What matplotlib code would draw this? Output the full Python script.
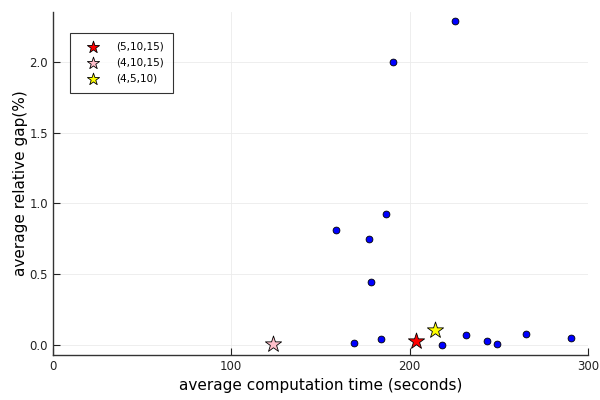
import matplotlib
matplotlib.use("Agg")
import matplotlib.pyplot as plt

# blue points (time in seconds, gap in %)
times = [225.2, 190.6, 158.9, 177.4, 186.6, 178.5, 168.6, 183.9,
         218.3, 231.4, 243.3, 249.1, 265.4, 290.6]
gaps = [2.291, 2.003, 0.812, 0.750, 0.927, 0.446, 0.012, 0.040,
        -0.005, 0.071, 0.026, 0.002, 0.076, 0.050]

# highlighted configurations
star_labels = ["(5,10,15)", "(4,10,15)", "(4,5,10)"]
star_times = [203.7, 123.4, 214.4]
star_gaps = [0.024, 0.007, 0.101]
star_colors = ["red", "pink", "yellow"]

fig = plt.figure(figsize=(6, 4), dpi=100)
ax = fig.add_axes([0.088, 0.1125, 0.892, 0.8575])

ax.scatter(times, gaps, s=24, color="blue", edgecolors="black",
           linewidths=0.6, zorder=3)
for lab, t, g, c in zip(star_labels, star_times, star_gaps, star_colors):
    ax.scatter([t], [g], s=150, marker="*", color=c, edgecolors="black",
               linewidths=0.6, label=lab, zorder=4)

ax.set_xlim(0, 300)
ax.set_ylim(-0.073, 2.354)
ax.set_xticks([0, 100, 200, 300])
ax.set_yticks([0.0, 0.5, 1.0, 1.5, 2.0])
ax.set_yticklabels(["0.0", "0.5", "1.0", "1.5", "2.0"])
ax.grid(True, color="#ebebeb", linewidth=0.6)
ax.set_axisbelow(True)
ax.spines["top"].set_visible(False)
ax.spines["right"].set_visible(False)
for s in ["left", "bottom"]:
    ax.spines[s].set_linewidth(1.0)
    ax.spines[s].set_color("#333333")
ax.tick_params(direction="in", length=5, labelsize=8.5, colors="#222222")

ax.set_xlabel("average computation time (seconds)", fontsize=11)
ax.set_ylabel("average relative gap(%)", fontsize=11, labelpad=1)

leg = ax.legend(loc="upper left", bbox_to_anchor=(0.033, 0.94), fontsize=7.5,
                frameon=True, fancybox=False, edgecolor="black",
                borderpad=0.9, handletextpad=0.9, labelspacing=0.55,
                handlelength=2.6, markerscale=0.75, borderaxespad=0)
leg.get_frame().set_linewidth(0.8)

fig.savefig("out.png", dpi=100)
